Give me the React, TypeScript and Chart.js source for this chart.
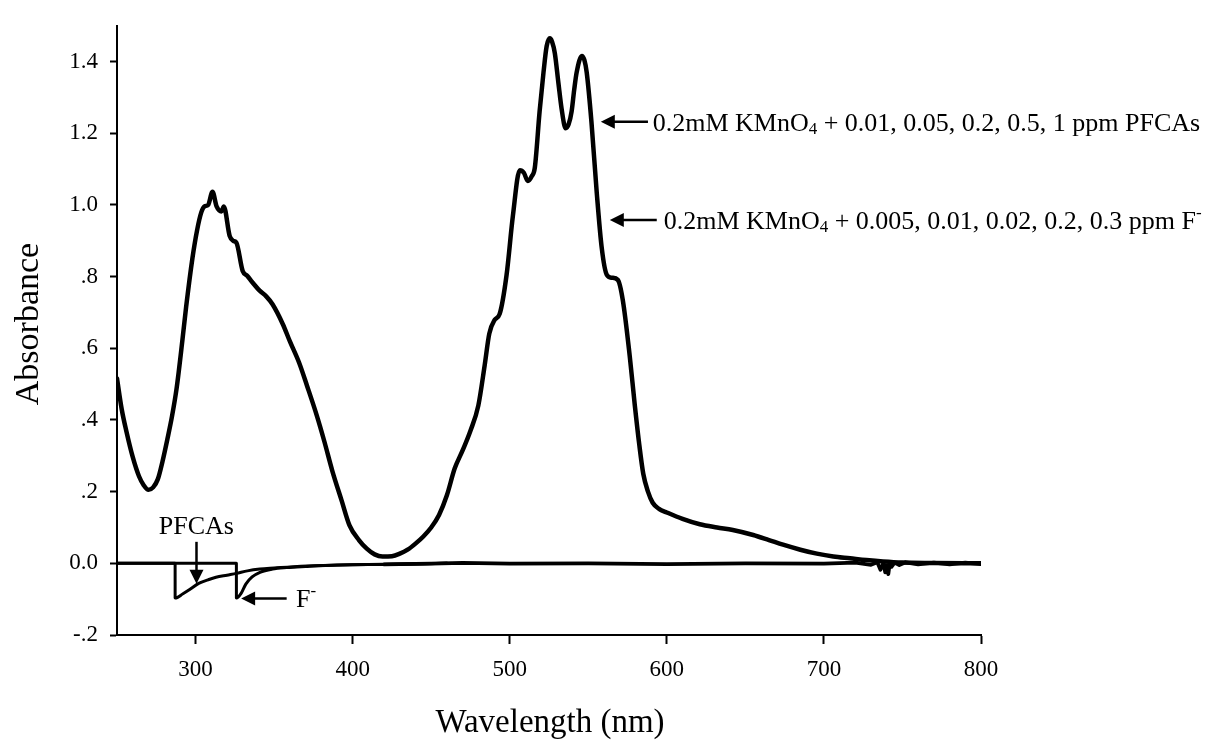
import React, { useEffect, useRef } from "react";
import { Chart, registerables } from "chart.js";

Chart.register(...registerables);

// Main spectrum: 0.2 mM KMnO4 (+ PFCAs / F-), overlapping curves
const mainWavelength = [
  250, 253, 256, 260, 264, 267, 270, 273, 276, 279, 282, 285, 288, 291.7, 294, 298, 301, 303.7, 305.7, 308,
  310.8, 313.4, 316.5, 318, 321.7, 324, 326, 330, 333, 336, 340.8, 345, 349, 355.5, 360, 366, 371, 377, 382,
  387, 393, 398, 404, 409, 414, 419, 425, 430, 435, 440, 445, 450, 455, 460, 465, 470, 475, 480, 484, 487,
  490.5, 493.6, 498, 502, 506.4, 509, 511.5, 514, 516, 519, 521.5, 523.5, 525.5, 527, 528.7, 531, 533, 535.6,
  537.5, 539.4, 541, 542.6, 545.9, 547.5, 549, 552, 555.4, 558.6, 561.8, 565, 568.8, 572, 576.4, 579.6, 582.5,
  585, 588, 591, 595, 600, 610, 621, 632, 642, 655, 665, 674, 685, 695.5, 706, 716.6, 727, 737.6, 750, 770, 800,
];
const mainAbsorbance = [
  0.516, 0.43, 0.368, 0.297, 0.243, 0.218, 0.205, 0.212, 0.235, 0.285, 0.345, 0.41, 0.49, 0.625, 0.715, 0.851,
  0.93, 0.98, 0.996, 1.0, 1.037, 0.996, 0.982, 0.996, 0.914, 0.9, 0.895, 0.816, 0.802, 0.785, 0.761, 0.745,
  0.723, 0.668, 0.62, 0.559, 0.495, 0.415, 0.34, 0.259, 0.175, 0.106, 0.065, 0.041, 0.025, 0.019, 0.02, 0.027,
  0.038, 0.055, 0.075, 0.1, 0.135, 0.19, 0.265, 0.315, 0.37, 0.44, 0.551, 0.641, 0.68, 0.696, 0.805, 0.969,
  1.097, 1.09, 1.067, 1.08, 1.105, 1.26, 1.37, 1.443, 1.465, 1.455, 1.424, 1.34, 1.269, 1.214, 1.225, 1.261,
  1.32, 1.37, 1.416, 1.405, 1.37, 1.233, 1.034, 0.879, 0.805, 0.797, 0.791, 0.734, 0.578, 0.442, 0.33, 0.25,
  0.2, 0.169, 0.152, 0.142, 0.124, 0.109, 0.1, 0.093, 0.079, 0.065, 0.052, 0.038, 0.027, 0.019, 0.014, 0.009,
  0.005, 0.002, 0.001, 0,
];

// Difference spectrum with PFCAs
const pfcaWavelength = [250, 287, 287.01, 292, 296, 302, 308, 313, 320, 326, 333, 341, 350, 360, 375, 400, 430, 460];
const pfcaAbsorbance = [0, 0, -0.097, -0.085, -0.074, -0.056, -0.046, -0.039, -0.033, -0.028, -0.021, -0.016, -0.013, -0.01, -0.007, -0.004, -0.002, 0];

// Difference spectrum with F-
const fluorideWavelength = [250, 326, 326.01, 329, 332, 336, 341, 349, 358, 370, 390, 420, 460];
const fluorideAbsorbance = [0, 0, -0.097, -0.084, -0.058, -0.038, -0.025, -0.016, -0.012, -0.009, -0.005, -0.003, 0];

// Noisy baseline of the difference spectra
const baselineWavelength = [
  420, 450, 470, 500, 550, 600, 650, 700, 720, 730, 734, 736, 738, 739, 740, 741, 742, 743, 745, 748, 752,
  760, 770, 780, 790, 800,
];
const baselineAbsorbance = [
  -0.003, -0.001, 0.001, -0.001, 0, -0.002, 0, -0.001, 0.002, -0.004, 0.003, -0.018, 0.002, -0.025, -0.006,
  -0.03, 0.003, -0.01, 0.002, -0.005, 0.003, -0.003, 0.002, -0.003, 0.002, -0.002,
];

const xTicks = [300, 400, 500, 600, 700, 800];
const yTicks = [-0.2, 0, 0.2, 0.4, 0.6, 0.8, 1.0, 1.2, 1.4];
const yTickLabels = ["-.2", "0.0", ".2", ".4", ".6", ".8", "1.0", "1.2", "1.4"];

const xTitle = "Wavelength (nm)";
const yTitle = "Absorbance";

const SERIF = '"Liberation Serif", "Times New Roman", serif';

const toPoints = (xs: number[], ys: number[]) => xs.map((x, i) => ({ x, y: ys[i] }));

type Run = { text: string; size: number; dy: number };

function drawRuns(ctx: CanvasRenderingContext2D, x: number, y: number, runs: Run[]) {
  let cx = x;
  for (const r of runs) {
    ctx.font = `${r.size}px ${SERIF}`;
    ctx.fillText(r.text, cx, y + r.dy);
    cx += ctx.measureText(r.text).width;
  }
}

function arrow(ctx: CanvasRenderingContext2D, x1: number, y1: number, x2: number, y2: number) {
  const ang = Math.atan2(y2 - y1, x2 - x1);
  const headLen = 14;
  const headHalf = 7;
  ctx.beginPath();
  ctx.lineWidth = 2.5;
  ctx.moveTo(x1, y1);
  ctx.lineTo(x2 - Math.cos(ang) * headLen * 0.8, y2 - Math.sin(ang) * headLen * 0.8);
  ctx.stroke();
  ctx.beginPath();
  ctx.moveTo(x2, y2);
  ctx.lineTo(
    x2 - Math.cos(ang) * headLen + Math.sin(ang) * headHalf,
    y2 - Math.sin(ang) * headLen - Math.cos(ang) * headHalf
  );
  ctx.lineTo(
    x2 - Math.cos(ang) * headLen - Math.sin(ang) * headHalf,
    y2 - Math.sin(ang) * headLen + Math.cos(ang) * headHalf
  );
  ctx.closePath();
  ctx.fill();
}

const annotationPlugin = {
  id: "annotations",
  afterDraw(chart: any) {
    const ctx: CanvasRenderingContext2D = chart.ctx;
    const xs = chart.scales.x;
    const ys = chart.scales.y;
    const px = (v: number) => xs.getPixelForValue(v);
    const py = (v: number) => ys.getPixelForValue(v);
    ctx.save();
    ctx.fillStyle = "#000";
    ctx.strokeStyle = "#000";
    ctx.textBaseline = "alphabetic";

    // Axis titles
    ctx.textAlign = "center";
    ctx.font = `33px ${SERIF}`;
    ctx.fillText(xTitle, 550, 732);
    ctx.save();
    ctx.translate(38, 324);
    ctx.rotate(-Math.PI / 2);
    ctx.font = `34px ${SERIF}`;
    ctx.fillText(yTitle, 0, 0);
    ctx.restore();

    // PFCAs label + down arrow
    ctx.font = `26px ${SERIF}`;
    ctx.fillText("PFCAs", px(300.5), py(0.082));
    ctx.textAlign = "left";
    arrow(ctx, px(300.6), py(0.06), px(300.6), py(-0.057));

    // F- label + arrow
    arrow(ctx, px(358), py(-0.098), px(329), py(-0.098));
    drawRuns(ctx, px(364), py(-0.098) + 9, [
      { text: "F", size: 26, dy: 0 },
      { text: "-", size: 17, dy: -11 },
    ]);

    // Upper annotations
    const y1 = py(1.232);
    arrow(ctx, px(588), y1, px(558), y1);
    drawRuns(ctx, px(591), y1 + 9, [
      { text: "0.2mM KMnO", size: 26, dy: 0 },
      { text: "4", size: 17, dy: 3 },
      { text: " + 0.01, 0.05, 0.2, 0.5, 1 ppm PFCAs", size: 26, dy: 0 },
    ]);
    const y2 = py(0.958);
    arrow(ctx, px(593.6), y2, px(563.7), y2);
    drawRuns(ctx, px(598), y2 + 9, [
      { text: "0.2mM KMnO", size: 26, dy: 0 },
      { text: "4", size: 17, dy: 3 },
      { text: " + 0.005, 0.01, 0.02, 0.2, 0.3 ppm F", size: 26, dy: 0 },
      { text: "-", size: 17, dy: -11 },
    ]);
    ctx.restore();
  },
};

export default function App() {
  const canvasRef = useRef<HTMLCanvasElement | null>(null);

  useEffect(() => {
    if (!canvasRef.current) return;
    const lineStyle = {
      borderColor: "#000",
      backgroundColor: "#000",
      pointRadius: 0,
      showLine: true,
      fill: false,
      borderJoinStyle: "round" as const,
      borderCapStyle: "round" as const,
    };
    const chart = new Chart(canvasRef.current, {
      type: "scatter",
      data: {
        datasets: [
          { ...lineStyle, data: toPoints(baselineWavelength, baselineAbsorbance), borderWidth: 3.8, tension: 0 },
          { ...lineStyle, data: toPoints(pfcaWavelength, pfcaAbsorbance), borderWidth: 3, tension: 0.3, cubicInterpolationMode: "monotone" },
          { ...lineStyle, data: toPoints(fluorideWavelength, fluorideAbsorbance), borderWidth: 3, tension: 0.3, cubicInterpolationMode: "monotone" },
          { ...lineStyle, data: toPoints(mainWavelength, mainAbsorbance), borderWidth: 4.5, cubicInterpolationMode: "monotone" },
        ] as any,
      },
      options: {
        responsive: false,
        animation: false,
        events: [],
        layout: { padding: { top: 13, right: 239, left: 0, bottom: 0 } },
        plugins: { legend: { display: false }, tooltip: { enabled: false } },
        scales: {
          x: {
            type: "linear",
            min: 250,
            max: 800,
            afterBuildTicks: (s: any) => {
              s.ticks = xTicks.map((v) => ({ value: v }));
            },
            afterFit: (s: any) => {
              s.height = 107;
            },
            ticks: {
              color: "#000",
              font: { family: SERIF, size: 23 },
              padding: 12,
              maxRotation: 0,
              autoSkip: false,
            },
            grid: {
              display: true,
              drawOnChartArea: false,
              drawTicks: true,
              tickLength: 9,
              tickWidth: 2,
              tickColor: "#000",
            },
            border: { display: true, color: "#000", width: 2 },
          },
          y: {
            type: "linear",
            min: -0.2,
            max: 1.5,
            afterBuildTicks: (s: any) => {
              s.ticks = yTicks.map((v) => ({ value: v }));
            },
            afterFit: (s: any) => {
              s.width = 117;
            },
            ticks: {
              color: "#000",
              font: { family: SERIF, size: 23 },
              padding: 12,
              autoSkip: false,
              callback: (v: any) => {
                const i = yTicks.findIndex((t) => Math.abs(t - Number(v)) < 1e-9);
                return i >= 0 ? yTickLabels[i] : "";
              },
            },
            grid: {
              display: true,
              drawOnChartArea: false,
              drawTicks: true,
              tickLength: 7,
              tickWidth: 2,
              tickColor: "#000",
            },
            border: { display: true, color: "#000", width: 2 },
          },
        },
      },
      plugins: [annotationPlugin],
    });
    return () => chart.destroy();
  }, []);

  return (
    <div style={{ position: "fixed", left: 0, top: 0, width: 1220, height: 742, background: "#fff" }}>
      <canvas ref={canvasRef} width={1220} height={742} style={{ width: 1220, height: 742, display: "block" }} />
    </div>
  );
}
